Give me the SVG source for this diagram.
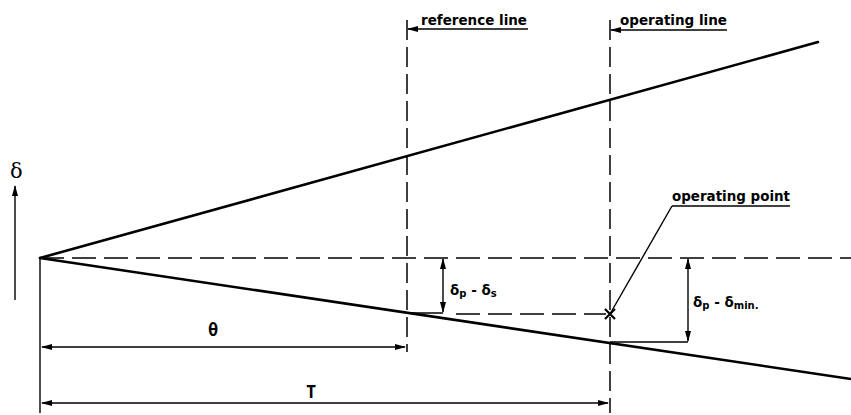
<svg xmlns="http://www.w3.org/2000/svg" width="851" height="415" viewBox="0 0 851 415">
<style>
.main{stroke:#000;stroke-width:2.6;fill:none;stroke-linecap:round}
.thin{stroke:#000;stroke-width:1.4;fill:none}
.dashH{stroke:#000;stroke-width:1.6;fill:none;stroke-dasharray:24 8}
.dashV{stroke:#000;stroke-width:1.5;fill:none;stroke-dasharray:20 7}
.lbl{font-family:"DejaVu Sans",sans-serif;font-weight:bold;font-size:13.5px;fill:#000}
.mono{font-family:"DejaVu Sans Mono","Liberation Mono",monospace;font-weight:bold;font-size:17px;fill:#000}
.sub{font-size:10px}
</style>
<defs>
<marker id="ar" markerUnits="userSpaceOnUse" markerWidth="11" markerHeight="7" refX="10" refY="3.5" orient="auto-start-reverse">
<path d="M0,0.5 L11,3.5 L0,6.5 z" fill="#000"/>
</marker>
</defs>
<rect width="851" height="415" fill="#fff"/>
<g id="connectors">
<line class="main" x1="40" y1="258" x2="818" y2="42"/>
<line class="main" x1="40" y1="258" x2="851" y2="379"/>
<line class="dashH" x1="40" y1="258" x2="851" y2="258"/>
<line class="dashV" x1="407" y1="20" x2="407" y2="352"/>
<line class="dashV" x1="610" y1="20" x2="610" y2="413"/>
<line class="thin" x1="40" y1="258" x2="40" y2="413"/>
<line class="thin" x1="15" y1="300" x2="15" y2="186" marker-end="url(#ar)"/>
<line class="thin" x1="42" y1="347" x2="405" y2="347" marker-start="url(#ar)" marker-end="url(#ar)"/>
<line class="thin" x1="42" y1="403" x2="608" y2="403" marker-start="url(#ar)" marker-end="url(#ar)"/>
<line class="thin" x1="443" y1="259" x2="443" y2="312" marker-start="url(#ar)" marker-end="url(#ar)"/>
<line class="dashH" x1="456" y1="314" x2="606" y2="314"/>
<line class="thin" x1="407" y1="313" x2="443" y2="313"/>
<line class="thin" x1="688" y1="259" x2="688" y2="341" marker-start="url(#ar)" marker-end="url(#ar)"/>
<line class="thin" x1="610" y1="342" x2="688" y2="342"/>
<line class="thin" x1="528" y1="29" x2="408" y2="29" marker-end="url(#ar)"/>
<line class="thin" x1="727" y1="30" x2="611" y2="30" marker-end="url(#ar)"/>
<line class="thin" x1="672" y1="206" x2="790" y2="206"/>
<line class="thin" x1="672" y1="206" x2="610" y2="314"/>
</g>
<g id="operating-point">
<path d="M605,309 L615,319 M615,309 L605,319" stroke="#000" stroke-width="2.2"/>
</g>
<g id="labels">
<text class="lbl" x="421" y="25" textLength="106" lengthAdjust="spacingAndGlyphs">reference line</text>
<text class="lbl" x="620" y="25" textLength="107" lengthAdjust="spacingAndGlyphs">operating line</text>
<text class="lbl" x="672" y="201" textLength="118" lengthAdjust="spacingAndGlyphs">operating point</text>
<text x="10" y="178" font-family="DejaVu Serif,serif" font-size="21" fill="#000">δ</text>
<text class="mono" x="208" y="336">θ</text>
<text class="mono" x="306" y="398">T</text>
<text class="lbl" x="450" y="295">δ<tspan class="sub" dy="2">p</tspan><tspan dy="-2"> - δ</tspan><tspan class="sub" dy="2">s</tspan></text>
<text class="lbl" x="693" y="307">δ<tspan class="sub" dy="2">p</tspan><tspan dy="-2"> - δ</tspan><tspan class="sub" dy="2">min.</tspan></text>
</g>
</svg>
